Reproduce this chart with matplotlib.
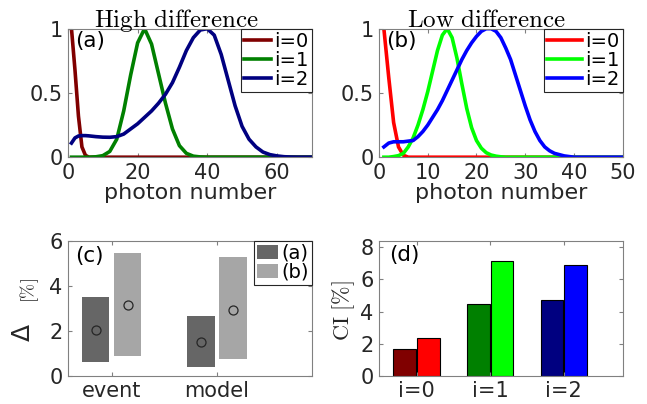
import numpy as np
import matplotlib
matplotlib.use("Agg")
import matplotlib.pyplot as plt

plt.rcParams['mathtext.fontset'] = 'cm'
plt.rcParams['font.family'] = ['DejaVu Sans']

# panel (a): high difference, photon number distributions
xa = [1, 2, 3, 4, 5, 6, 8, 10, 12, 14, 16, 18, 20, 22, 24, 26, 28, 30, 32, 34, 36, 38,
      40, 42, 44, 46, 48, 50, 52, 54, 56, 58, 60, 62, 64, 66, 68, 70]
red_a = [1.0, 0.68, 0.32, 0.08, 0.015, 0.0] + [0.0] * 32
green_a = [0, 0, 0, 0, 0, 0,
           0.003, 0.012, 0.045, 0.14, 0.36, 0.64, 0.89, 1.0, 0.88, 0.65, 0.42, 0.22,
           0.09, 0.03, 0.008, 0.002] + [0.0] * 16
blue_a = [0.11, 0.15, 0.165, 0.168, 0.168, 0.166,
          0.16, 0.156, 0.155, 0.16, 0.18, 0.22, 0.26, 0.31, 0.36, 0.42, 0.49, 0.58,
          0.70, 0.83, 0.93, 0.99, 1.0, 0.95, 0.80, 0.60, 0.40, 0.24, 0.14, 0.08,
          0.04, 0.02, 0.01, 0.004, 0.001, 0, 0, 0]

# panel (b): low difference
xb = np.arange(1, 51)
red_b = [1.0, 0.62, 0.27, 0.08, 0.015] + [0.0] * 45
green_b = [0, 0, 0.005, 0.012, 0.03, 0.08, 0.15, 0.25, 0.37, 0.51,
           0.67, 0.83, 0.95, 1.0, 0.93, 0.77, 0.57, 0.38, 0.23, 0.13,
           0.07, 0.035, 0.017, 0.008, 0.003] + [0.0] * 25
blue_b = [0.08, 0.11, 0.12, 0.12, 0.12, 0.125, 0.13, 0.16, 0.2, 0.25,
          0.31, 0.37, 0.44, 0.52, 0.6, 0.68, 0.76, 0.83, 0.89, 0.94,
          0.98, 1.0, 1.0, 0.98, 0.93, 0.85, 0.76, 0.64, 0.52, 0.4,
          0.29, 0.2, 0.13, 0.08, 0.05, 0.03, 0.02, 0.01, 0.005, 0,
          0, 0, 0, 0, 0, 0, 0, 0, 0, 0]

# panel (c): Delta ranges and centres
methods = ['event', 'model']
low_a = [0.61, 0.39]
high_a = [3.5, 2.66]
mid_a = [2.04, 1.52]
low_b = [0.89, 0.74]
high_b = [5.48, 5.29]
mid_b = [3.13, 2.93]

# panel (d): CI
states = ['i=0', 'i=1', 'i=2']
ci_a = [1.69, 4.5, 4.7]
ci_b = [2.33, 7.17, 6.89]

cols_a = ['#800000', '#008000', '#000080']
cols_b = ['#ff0000', '#00ff00', '#0000ff']
gray_spine = '#808080'
txt = '#262626'
fs_tick = 15
fs_leg = 14

fig = plt.figure(figsize=(6.47, 4.04), dpi=100)
W, H = 647.0, 404.0
def place(l, t, r, b):
    return fig.add_axes([l / W, 1 - b / H, (r - l) / W, (b - t) / H])

ax_a = place(68, 28.7, 311.7, 157.2)
ax_b = place(379, 28.7, 622.7, 157.2)
ax_c = place(68, 241, 311.7, 375.7)
ax_d = place(379, 241, 622.7, 375.7)

def style(ax):
    for s in ax.spines.values():
        s.set_color(gray_spine)
        s.set_linewidth(0.8)
    ax.tick_params(direction='in', length=3, color=gray_spine, labelcolor=txt,
                   labelsize=fs_tick, top=True, right=True)
    ax.tick_params(axis='x', pad=4)
    ax.tick_params(axis='y', pad=4)

def legend(ax, hl, **kw):
    leg = ax.legend(loc='upper right', fontsize=fs_leg, handlelength=hl, handletextpad=0.15,
                    labelspacing=0.0, borderpad=0.15, borderaxespad=0, fancybox=False,
                    framealpha=1, edgecolor=txt, **kw)
    leg.get_frame().set_linewidth(0.8)
    return leg

lw = 2.6
ax_a.plot(xa, red_a, color=cols_a[0], lw=lw, label='i=0')
ax_a.plot(xa, green_a, color=cols_a[1], lw=lw, label='i=1')
ax_a.plot(xa, blue_a, color=cols_a[2], lw=lw, label='i=2')
ax_a.set_xlim(0, 70)
ax_a.set_ylim(0, 1)
ax_a.set_xticks([0, 20, 40, 60])
ax_a.set_yticks([0, 0.5, 1])
ax_a.set_yticklabels(['0', '0.5', '1'])
ax_a.set_xlabel('photon number', fontsize=16, color=txt, labelpad=0)
ax_a.set_title(r'$\mathrm{High\ difference}$', fontsize=18, pad=1, x=0.443)
ax_a.text(0.03, 0.98, '(a)', transform=ax_a.transAxes, fontsize=15.5, va='top', color='k')
legend(ax_a, 1.4)

ax_b.plot(xb, red_b, color=cols_b[0], lw=lw, label='i=0')
ax_b.plot(xb, green_b, color=cols_b[1], lw=lw, label='i=1')
ax_b.plot(xb, blue_b, color=cols_b[2], lw=lw, label='i=2')
ax_b.set_xlim(0, 50)
ax_b.set_ylim(0, 1)
ax_b.set_xticks([0, 10, 20, 30, 40, 50])
ax_b.set_yticks([0, 0.5, 1])
ax_b.set_yticklabels(['0', '0.5', '1'])
ax_b.set_xlabel('photon number', fontsize=16, color=txt, labelpad=0)
ax_b.set_title(r'$\mathrm{Low\ difference}$', fontsize=18, pad=1, x=0.441)
ax_b.text(0.03, 0.98, '(b)', transform=ax_b.transAxes, fontsize=15.5, va='top', color='k')
legend(ax_b, 1.85)

# panel (c)
xc = np.arange(1, len(methods) + 1)
off = 0.153
bw = 0.26
ax_c.bar(xc - off, np.array(high_a) - np.array(low_a), bottom=low_a, width=bw,
         color='#666666', label='(a)')
ax_c.bar(xc + off, np.array(high_b) - np.array(low_b), bottom=low_b, width=bw,
         color='#a6a6a6', label='(b)')
ax_c.plot(xc - off, mid_a, 'o', ms=6.5, mfc='none', mec='#262626', mew=0.9)
ax_c.plot(xc + off, mid_b, 'o', ms=6.5, mfc='none', mec='#262626', mew=0.9)
ax_c.set_xlim(0.585, 2.9)
ax_c.set_ylim(0, 6)
ax_c.set_xticks(xc)
ax_c.set_xticklabels(methods)
ax_c.set_yticks([0, 2, 4, 6])
ax_c.text(0.03, 0.96, '(c)', transform=ax_c.transAxes, fontsize=15.5, va='top', color='k')
legend(ax_c, 1.1, handleheight=0.75)
fig.text(23 / W, 1 - 332 / H, '\u0394', rotation=90, fontsize=18, color=txt,
         ha='center', va='center')
fig.text(30 / W, 1 - 291 / H, r'$[\%]$', rotation=90, fontsize=13, color=txt,
         ha='center', va='center')

# panel (d)
xd = np.arange(1, len(states) + 1)
offd = 0.16
bwd = 0.31
ax_d.bar(xd - offd, ci_a, width=bwd, color=cols_a, edgecolor='k', linewidth=0.8)
ax_d.bar(xd + offd, ci_b, width=bwd, color=cols_b, edgecolor='k', linewidth=0.8)
ax_d.set_xlim(0.49, 3.8)
ax_d.set_ylim(0, 8.4)
ax_d.set_xticks(xd)
ax_d.set_xticklabels(states)
ax_d.set_yticks([0, 2, 4, 6, 8])
ax_d.text(0.04, 0.97, '(d)', transform=ax_d.transAxes, fontsize=15.5, va='top', color='k')
fig.text(344 / W, 1 - 311 / H, r'$\mathrm{CI}\ [\%]$', rotation=90, fontsize=16,
         color=txt, ha='center', va='center')

for ax in (ax_a, ax_b, ax_c, ax_d):
    style(ax)

fig.savefig('out.png', dpi=100)
